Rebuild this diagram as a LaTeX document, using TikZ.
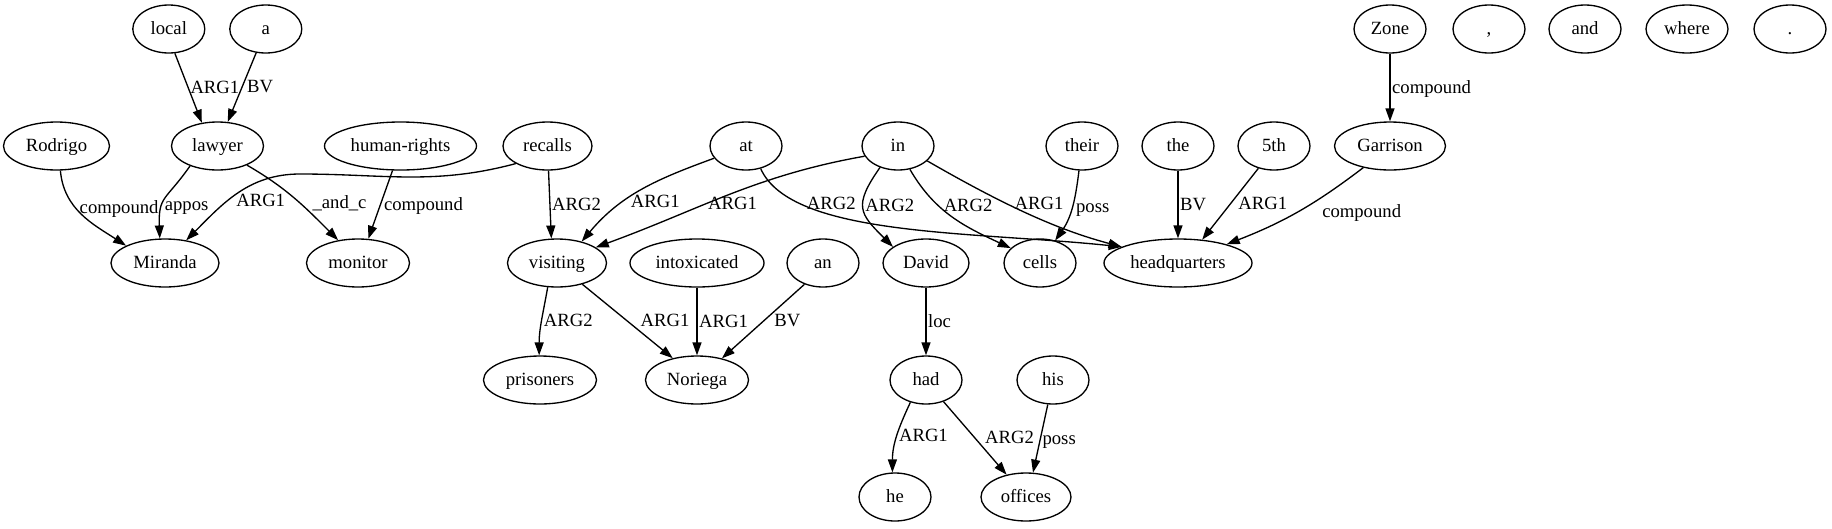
\documentclass[tikz,border=0pt]{standalone}
\usepackage{fontspec}
\setmainfont{Liberation Serif}
\usetikzlibrary{shapes.geometric,arrows.meta,positioning}

\begin{document}
\begin{tikzpicture}[x=1pt, y=1pt, node distance={117pt}, line width=1.33pt, >={Triangle[length=13pt, width=9pt]},
	node/.style = {draw, ellipse, minimum width=72pt, minimum height=48pt, inner sep=0pt, text height=14.5pt, text depth=3.5pt, font=\fontsize{18.67pt}{22pt}\selectfont},
	lbl/.style = {inner sep=1.5pt, text height=14.5pt, text depth=3.5pt, font=\fontsize{18.67pt}{22pt}\selectfont}]
		\useasboundingbox (0,0) rectangle (1832,-528);
		\node[node, minimum width=106pt] (rodrigo) at (56.5,-146) {Rodrigo};
		\node[node, minimum width=92pt] (lawyer) [node distance=161pt, right of=rodrigo] {lawyer};
		\node[node, minimum width=152pt] (hr) [node distance=183pt, right of=lawyer] {human-rights};
		\node[node, minimum width=89pt] (recalls) [node distance=147pt, right of=hr] {recalls};
		\node[node] (at1) [node distance=198.5pt, right of=recalls] {at};
		\node[node] (in1) [node distance=152pt, right of=at1] {in};
		\node[node] (their) [node distance=184pt, right of=in1] {their};
		\node[node] (the1) [node distance=96pt, right of=their] {the};
		\node[node] (fifth) [node distance=96pt, right of=the1] {5th};
		\node[node, minimum width=111pt] (garrison) [node distance=116pt, right of=fifth] {Garrison};
		\node[node] (local) [above of=lawyer, xshift=-48.7pt] {local};
		\node[node] (a1) [node distance=97pt, right of=local] {a};
		\node[node] (zone) [above of=garrison] {Zone};
		\node[node] (comma) [node distance=99pt, right of=zone] {,};
		\node[node] (and1) [node distance=96pt, right of=comma] {and};
		\node[node, minimum width=82pt] (where) [node distance=102pt, right of=and1] {where};
		\node[node] (dot) [node distance=103pt, right of=where] {.};
		\node[node, minimum width=148pt] (hq) [below of=the1] {headquarters};
		\node[node] (cells) [node distance=138pt, left of=hq] {cells};
		\node[node, minimum width=86pt] (david) [node distance=114pt, left of=cells] {David};
		\node[node] (an1) [node distance=103pt, left of=david] {an};
		\node[node, minimum width=134pt] (intox) [node distance=126pt, left of=an1] {intoxicated};
		\node[node, minimum width=99pt] (visiting) [node distance=140pt, left of=intox] {visiting};
		\node[node, minimum width=103pt] (monitor) [node distance=199pt, left of=visiting] {monitor};
		\node[node, minimum width=108pt] (miranda) [node distance=193pt, left of=monitor] {Miranda};
		\node[node, minimum width=103pt] (noriega) [below of=intox] {Noriega};
		\node[node, minimum width=113pt] (prisoners) [node distance=157pt, left of=noriega] {prisoners};
		\node[node] (had1) [below of=david] {had};
		\node[node] (his1) [node distance=127pt, right of=had1] {his};
		\node[node] (he1) [below of=had1, xshift=-31pt] {he};
		\node[node, minimum width=90pt] (offices) [node distance=131pt, right of=he1] {offices};
		\draw[->] (local.-76) -- node[lbl, right] {ARG1} (lawyer.124);
		\draw[->] (a1.-112) -- node[lbl, right, xshift=3pt] {BV} (lawyer.67);
		\draw[->] (zone) -- node[lbl, right] {compound} (garrison);
		\draw[->] (rodrigo.-81) to [out=-85, in=147] node[lbl, right, pos=.4, xshift=2pt] {compound} (miranda.156);
		\draw[->] (lawyer.-144) to [out=-125, in=92, looseness=1.4] node[lbl, right, pos=.6] {appos} (miranda.102);
		\draw[->] (recalls.-151) to [out=-165, in=0] (300,-174) to [out=180, in=45] node[lbl, right, pos=.6, xshift=7pt] {ARG1} (miranda.47);
		\draw[->] (lawyer.-33) to [out=-30, in=135] node[lbl, right, pos=.55, xshift=11pt] {\_and\_c} (monitor.131);
		\draw[->] (hr.-108) -- node[lbl, right, xshift=1.5pt] {compound} (monitor.67);
		\draw[->] (recalls) -- node[lbl, right] {ARG2} (visiting.103);
		\draw[->] (at1.-159) to [out=-160, in=50] node[lbl, right, pos=.65, xshift=6pt] {ARG1} (visiting.41);
		\draw[->] (in1.-163) to [out=-170, in=20] node[lbl, right, pos=.6, xshift=2pt] {ARG1} (visiting.22);
		\draw[->] (at1.-57) to [out=-66, in=174, out distance=75pt, in distance=150pt] node[lbl, right, pos=.22, xshift=4pt] {ARG2} (hq.164);
		\draw[->] (in1.-130) to [out=-125, in=135, looseness=1.5] node[lbl, right, pos=.45] {ARG2} (david.154);
		\draw[->] (in1.-63) to [out=-60, in=155] node[lbl, right, pos=.35, xshift=3pt] {ARG2} (cells.153);
		\draw[->] (in1.-27) to [out=-30, in=165, out distance=100pt, in distance=60pt] node[lbl, right, pos=.35, xshift=6pt] {ARG1} (hq.164);
		\draw[->] (their.-97) to [out=-97, in=55] node[lbl, right, xshift=2pt] {poss} (cells.56);
		\draw[->] (the1) -- node[lbl, right] {BV} (hq);
		\draw[->] (fifth.-125) -- node[lbl, right, xshift=6pt] {ARG1} (hq.44);
		\draw[->] (garrison.-141) to [bend left=8] node[lbl, right, xshift=22pt] {compound} (hq.21);
		\draw[->] (visiting.-111) to [out=-100, in=90] node[lbl, right] {ARG2} (prisoners.92);
		\draw[->] (visiting.-40) -- node[lbl, right, xshift=11pt] {ARG1} (noriega.138);
		\draw[->] (intox) -- node[lbl, right] {ARG1} (noriega);
		\draw[->] (an1.-131) -- node[lbl, right, xshift=9pt] {BV} (noriega.41);
		\draw[->] (david) -- node[lbl, right] {loc} (had1);
		\draw[->] (had1.-125) to [out=-115, in=90] node[lbl, right] {ARG1} (he1.96);
		\draw[->] (had1.-51) -- node[lbl, right, xshift=8pt] {ARG2} (offices.131);
		\draw[->] (his1.-102) -- node[lbl, right] {poss} (offices.74);

	\end{tikzpicture}
\end{document}
